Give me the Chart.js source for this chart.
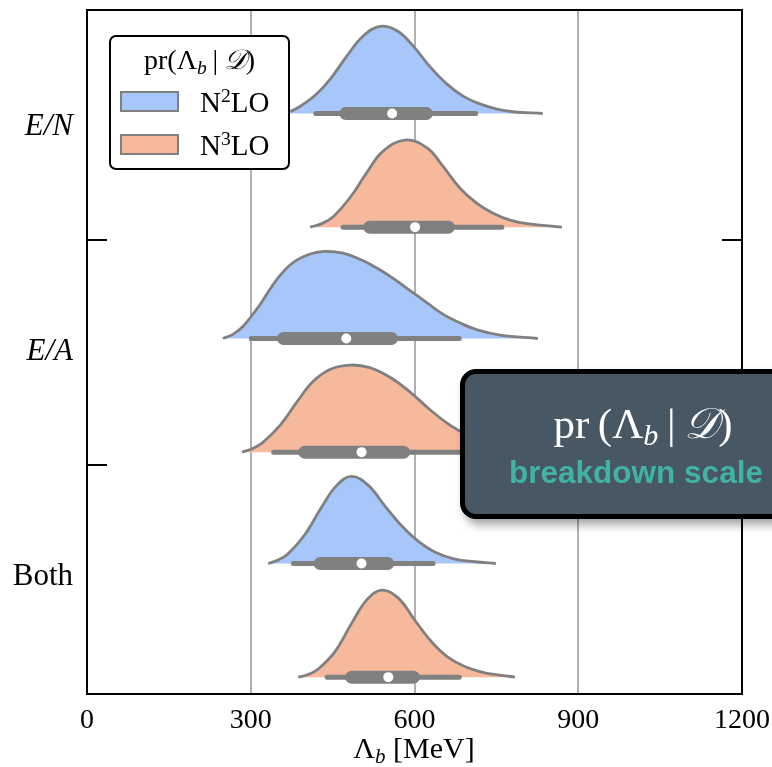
<!DOCTYPE html>
<html>
<head>
<meta charset="utf-8">
<script src="https://cdn.jsdelivr.net/npm/chart.js@4.4.1/dist/chart.umd.min.js"></script>
<style>
  html, body { margin: 0; padding: 0; background: #fff; overflow: hidden; }
  #wrap { position: relative; width: 772px; height: 767px; overflow: hidden; }
  #wrap canvas { position: absolute; left: 0; top: 0; }
  .serif { font-family: "Liberation Serif", "DejaVu Serif", serif; color: #000; }
  .cal { font-family: "Liberation Serif", "DejaVu Serif", "DejaVu Sans", "Noto Sans", serif; }
  sub { font-size: 0.7em; vertical-align: -0.25em; line-height: 0; }
  sup { font-size: 0.68em; vertical-align: 0.48em; line-height: 0; }

  #legend { position: absolute; left: 109px; top: 35px; width: 181px; height: 135px; box-sizing: border-box;
            border: 2px solid #000; border-radius: 7px; background: #fff; }
  #legend .ltitle { position: absolute; left: 0; right: 0; top: 23px; transform: translateY(-50%);
                    text-align: center; font-size: 28px; line-height: 1; white-space: nowrap; }
  #legend .sw { position: absolute; left: 9px; width: 59px; height: 21px; box-sizing: border-box; border: 2px solid #808080; }
  #legend .lab { position: absolute; left: 89px; transform: translateY(-50%); font-size: 29px; line-height: 1; white-space: nowrap; }

  #xtitle { position: absolute; left: 414px; top: 748px; transform: translate(-50%, -50%);
            font-size: 30px; line-height: 1; white-space: nowrap; }

  #badge { position: absolute; left: 460px; top: 369px; width: 360px; height: 150px; box-sizing: border-box;
           border: 5px solid #000; border-radius: 16px; background: #475764;
           box-shadow: 4px 6px 8px rgba(0,0,0,0.35); }
  #badge .t1 { position: absolute; left: 178px; top: 49px; transform: translate(-50%, -50%);
               color: #fff; font-size: 43px; line-height: 1; white-space: nowrap; }
  #badge .t2 { position: absolute; left: 171px; top: 99px; transform: translate(-50%, -50%);
               color: #41b3a3; font-family: "Liberation Sans", Arial, sans-serif; font-weight: bold;
               font-size: 31.5px; line-height: 1; white-space: nowrap; }
</style>
</head>
<body>
<div id="wrap">
  <canvas id="myChart" width="772" height="767"></canvas>
  <div id="legend" class="serif">
    <div class="ltitle">pr(Λ<sub><i>b</i></sub>&thinsp;|&thinsp;<i class="cal">𝒟</i>)</div>
  </div>
  <div id="xtitle" class="serif">Λ<sub><i>b</i></sub> [MeV]</div>
  <div id="badge">
    <div class="t1 serif" style="color:#fff">pr&thinsp;(Λ<sub><i>b</i></sub>&thinsp;|&thinsp;<i class="cal">𝒟</i>)</div>
    <div class="t2">breakdown scale</div>
  </div>
</div>
<script>
// Data
const categories = ['E/N', 'E/A', 'Both'];
const orderLabels = ['N²LO', 'N³LO'];
const xTickValues = [0, 300, 600, 900, 1200];

// violin outlines: [Λb in MeV, height relative to the peak]
const n2loEN = [[358, 0], [375, 0.03], [390, 0.08], [418, 0.21], [445, 0.39], [476, 0.66], [506, 0.89], [537, 1], [568, 0.95], [597, 0.78], [628, 0.54], [659, 0.34], [689, 0.2], [720, 0.11], [751, 0.05], [780, 0.02], [835, 0]];
const n3loEN = [[409, 0], [430, 0.04], [451, 0.12], [482, 0.34], [513, 0.63], [542, 0.87], [583, 1], [623, 0.91], [652, 0.7], [683, 0.45], [715, 0.27], [744, 0.16], [775, 0.08], [806, 0.04], [870, 0]];
const n2loEA = [[249, 0], [268, 0.05], [286, 0.14], [317, 0.39], [348, 0.68], [377, 0.87], [409, 0.97], [436, 1], [469, 0.98], [500, 0.91], [531, 0.81], [561, 0.69], [592, 0.55], [623, 0.41], [652, 0.28], [683, 0.18], [715, 0.1], [757, 0.04], [826, 0]];
const n3loEA = [[284, 0], [303, 0.04], [322, 0.11], [354, 0.31], [385, 0.58], [414, 0.81], [445, 0.95], [482, 1], [518, 0.97], [555, 0.86], [592, 0.69], [628, 0.49], [665, 0.31], [702, 0.18], [738, 0.1], [775, 0.05], [867, 0]];
const n2loBoth = [[332, 0], [350, 0.04], [368, 0.11], [399, 0.33], [431, 0.66], [458, 0.9], [485, 1], [515, 0.9], [546, 0.66], [577, 0.43], [606, 0.26], [638, 0.13], [674, 0.05], [710, 0.02], [749, 0]];
const n3loBoth = [[387, 0], [405, 0.03], [423, 0.09], [454, 0.29], [485, 0.62], [513, 0.89], [540, 1], [570, 0.91], [601, 0.65], [632, 0.4], [661, 0.23], [693, 0.12], [729, 0.05], [760, 0.02], [784, 0]];

// inner box plots, one value per category (E/N, E/A, Both)
const n2loLow = [419, 301, 378];
const n2loQ1 = [474, 360, 427];
const n2loMed = [559, 475, 503];
const n2loQ3 = [622, 558, 551];
const n2loHigh = [712, 682, 634];

const n3loLow = [469, 342, 440];
const n3loQ1 = [518, 399, 485];
const n3loMed = [601, 503, 552];
const n3loQ3 = [662, 580, 598];
const n3loHigh = [760, 716, 682];

// styling
const fills = ['#a7c6fa', '#f6b99c'];
const edge = '#808080';
const serif = 'Liberation Serif';
const baseOffset = [0.44, 0.945];   // baseline of each half violin inside its group
const peakHeight = 0.387;

const densities = [[n2loEN, n3loEN], [n2loEA, n3loEA], [n2loBoth, n3loBoth]];
const boxes = [
  [n2loLow, n2loQ1, n2loMed, n2loQ3, n2loHigh],
  [n3loLow, n3loQ1, n3loMed, n3loQ3, n3loHigh]
];

const datasets = [];
categories.forEach((cat, i) => {
  orderLabels.forEach((lab, j) => {
    const base = i + baseOffset[j];
    const [lo, q1, med, q3, hi] = boxes[j].map(a => a[i]);
    datasets.push({
      label: lab + ' ' + cat,
      data: densities[i][j].map(([x, h]) => ({ x: x, y: base - h * peakHeight })),
      fill: { value: base },
      backgroundColor: fills[j],
      borderColor: edge,
      borderWidth: 2.8,
      pointRadius: 0,
      tension: 0.4,
      order: 3
    });
    datasets.push({
      data: [{ x: lo, y: base }, { x: hi, y: base }],
      borderColor: edge, borderWidth: 5, borderCapStyle: 'round',
      pointRadius: 0, fill: false, order: 2
    });
    datasets.push({
      data: [{ x: q1, y: base }, { x: q3, y: base }],
      borderColor: edge, borderWidth: 13, borderCapStyle: 'round',
      pointRadius: 0, fill: false, order: 1
    });
    datasets.push({
      data: [{ x: med, y: base }],
      showLine: false, pointRadius: 5, pointBackgroundColor: '#fff',
      pointBorderWidth: 0, order: 0
    });
  });
});

// frame + inward ticks between groups
const frame = {
  id: 'frame',
  afterDraw(chart) {
    const { ctx, chartArea: a } = chart;
    const y = chart.scales.y;
    ctx.save();
    ctx.strokeStyle = '#000';
    ctx.lineWidth = 2;
    ctx.strokeRect(a.left, a.top, a.right - a.left, a.bottom - a.top);
    for (let k = 1; k < categories.length; k++) {
      const py = Math.round(y.getPixelForValue(k));
      ctx.beginPath();
      ctx.moveTo(a.left, py); ctx.lineTo(a.left + 20, py);
      ctx.moveTo(a.right - 20, py); ctx.lineTo(a.right, py);
      ctx.stroke();
    }
    ctx.restore();
  }
};

Chart.defaults.font.family = serif;
Chart.defaults.color = '#000';

const ctx = document.getElementById('myChart');
new Chart(ctx, {
  type: 'line',
  data: { datasets: datasets },
  options: {
    responsive: false,
    animation: false,
    events: [],
    layout: { padding: { top: 10, right: 30, left: 0, bottom: 0 } },
    plugins: {
      legend: { display: false },
      tooltip: { enabled: false }
    },
    scales: {
      x: {
        type: 'linear',
        min: 0,
        max: 1200,
        afterBuildTicks: s => { s.ticks = xTickValues.map(v => ({ value: v })); },
        afterFit: s => { s.height = 73; s.paddingLeft = 0; s.paddingRight = 0; },
        ticks: { padding: 10, font: { size: 28 }, callback: v => String(v) },
        grid: {
          drawTicks: false,
          lineWidth: 2,
          color: c => (c.tick && c.tick.value > 0 && c.tick.value < 1200) ? '#b0b0b0' : 'rgba(0,0,0,0)'
        },
        border: { display: false }
      },
      y: {
        type: 'linear',
        reverse: true,
        min: -0.02,
        max: 3.02,
        afterBuildTicks: s => { s.ticks = categories.map((c, i) => ({ value: i + 0.5 })); },
        afterFit: s => { s.width = 87; s.paddingTop = 0; s.paddingBottom = 0; },
        ticks: {
          padding: 14,
          callback: v => categories[Math.floor(v)],
          font: c => ({
            family: serif,
            size: 31,
            style: (categories[c.index] || '').includes('/') ? 'italic' : 'normal'
          })
        },
        grid: { display: false, drawTicks: false },
        border: { display: false }
      }
    }
  },
  plugins: [frame]
});

// legend entries (superscript order digit set as a real <sup>)
const legend = document.getElementById('legend');
const swatchTop = [54, 97];
const labelMid = [64.5, 108];
const supDigits = { '²': '2', '³': '3' };
orderLabels.forEach((lab, j) => {
  const sw = document.createElement('span');
  sw.className = 'sw';
  sw.style.top = swatchTop[j] + 'px';
  sw.style.background = fills[j];
  legend.appendChild(sw);
  const t = document.createElement('span');
  t.className = 'lab';
  t.style.top = labelMid[j] + 'px';
  t.innerHTML = lab.replace(/[²³]/g, m => '<sup>' + supDigits[m] + '</sup>');
  legend.appendChild(t);
});
</script>
</body>
</html>
